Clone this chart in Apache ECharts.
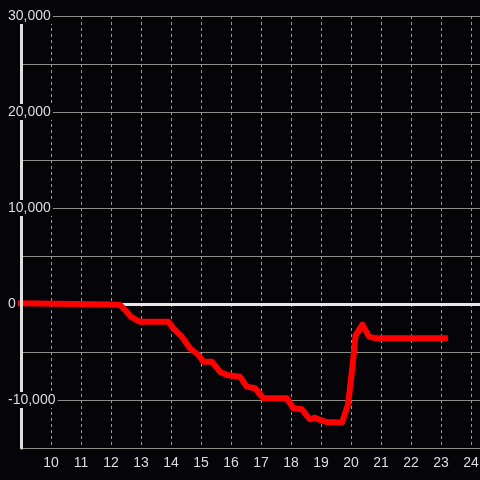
<!DOCTYPE html>
<html>
<head>
<meta charset="utf-8">
<script src="https://cdn.jsdelivr.net/npm/echarts@6/dist/echarts.min.js"></script>
<style>
  html, body { margin: 0; padding: 0; background: #050408; }
  #chart { width: 480px; height: 480px; }
</style>
</head>
<body>
<div id="chart"></div>
<script>
// hour of day
var hours = [8.85, 12.0, 12.3, 12.5, 12.67, 12.95, 13.91, 14.08, 14.36, 14.63, 14.91, 15.08, 15.36,
  15.63, 15.86, 16.3, 16.52, 16.8, 17.08, 17.86, 18.08, 18.36, 18.63, 18.8, 18.97, 19.2, 19.7,
  19.9, 20.05, 20.15, 20.38, 20.6, 20.8, 23.23]
// running value
var values = [80, -50, -100, -730, -1350, -1840, -1840, -2530, -3400, -4610, -5310, -6010, -6010,
  -7050, -7400, -7570, -8610, -8780, -9820, -9820, -10860, -10970, -12010, -11840, -12080, -12300, -12350,
  -10500, -6500, -3300, -2150, -3400, -3560, -3560]
// y labels only on every other grid line
var yLabelValues = [30000, 20000, 10000, 0, -10000]

var chart = echarts.init(document.getElementById('chart'))

var points = hours.map(function (h, i) {
  return [h, values[i]]
})

var option = {
  backgroundColor: '#050408',
  animation: false,
  textStyle: { fontFamily: 'Liberation Sans' },
  grid: { left: 21, right: 0, top: 16, bottom: 32, outerBoundsMode: 'none' },
  xAxis: {
    type: 'value',
    min: 9,
    max: 24.3,
    interval: 1,
    axisLine: { show: false },
    axisTick: { show: false },
    axisLabel: {
      color: '#dddddd',
      fontSize: 14,
      showMinLabel: false,
      formatter: function (v) {
        return Math.abs(v - Math.round(v)) < 1e-6 ? String(Math.round(v)) : ''
      }
    },
    splitLine: {
      show: true,
      lineStyle: { color: '#9a9a9a', width: 1, type: [3, 3] }
    }
  },
  yAxis: [
    {
      // grid lines, under the data
      type: 'value',
      min: -15000,
      max: 30000,
      interval: 5000,
      axisLine: { show: false },
      axisTick: { show: false },
      axisLabel: { show: false },
      splitLine: {
        show: true,
        lineStyle: { color: '#8c8c86', width: 1 }
      }
    },
    {
      // axis line and labels, over the data
      type: 'value',
      position: 'left',
      min: -15000,
      max: 30000,
      interval: 5000,
      z: 5,
      axisLine: { show: true, lineStyle: { color: '#e0e0e0', width: 3 } },
      axisTick: { show: false },
      splitLine: { show: false },
      axisLabel: {
        align: 'left',
        margin: 14,
        formatter: function (v) {
          if (yLabelValues.indexOf(v) < 0) return ''
          return '{b|' + v.toLocaleString('en-US') + '}'
        },
        rich: {
          b: {
            color: '#dddddd',
            fontSize: 14,
            fontFamily: 'Liberation Sans',
            backgroundColor: '#050408',
            padding: [1, 2, 1, 1]
          }
        }
      }
    }
  ],
  series: [
    {
      type: 'line',
      data: points,
      yAxisIndex: 0,
      symbol: 'none',
      clip: false,
      z: 3,
      lineStyle: { color: '#ff0000', width: 6, join: 'round' },
      markLine: {
        silent: true,
        symbol: 'none',
        z: 1,
        label: { show: false },
        lineStyle: { color: '#e8e8e8', width: 3, type: 'solid' },
        data: [{ yAxis: 0 }]
      }
    }
  ]
}

chart.setOption(option)
</script>
</body>
</html>
